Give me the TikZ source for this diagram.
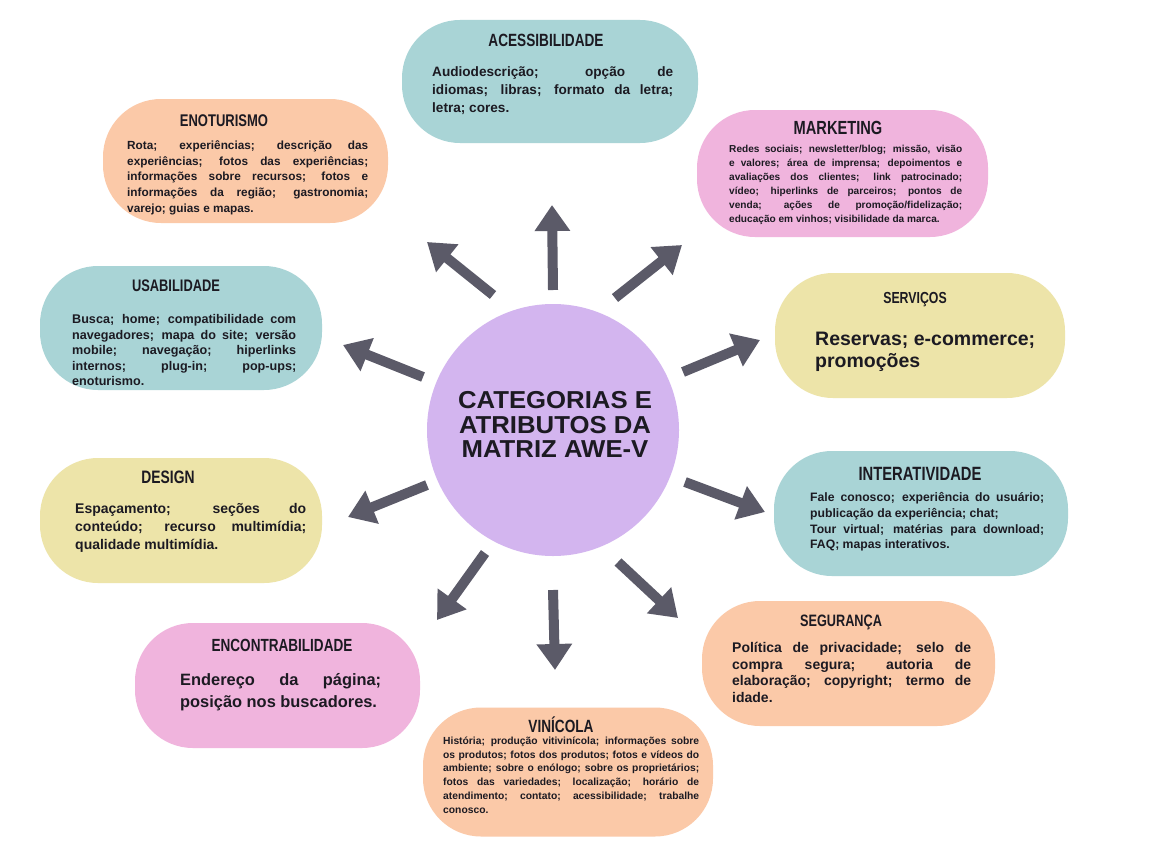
\documentclass[tikz,border=0pt]{standalone}
\usepackage{fontspec}
\setmainfont{Liberation Sans}
\newfontfamily\headfont[FakeStretch=0.77]{Liberation Sans}
\newfontfamily\hubfont[FakeStretch=1.05]{Liberation Sans}
\usetikzlibrary{arrows.meta}
\definecolor{tealbox}{HTML}{A9D4D6}
\definecolor{peachbox}{HTML}{FBC9A8}
\definecolor{pinkbox}{HTML}{F0B4DD}
\definecolor{yellowbox}{HTML}{EDE4A9}
\definecolor{hubfill}{HTML}{D3B5EF}
\definecolor{arrowgray}{HTML}{5B5A68}
\definecolor{inkdark}{HTML}{1C1A22}
\tolerance=10000 \hbadness=10000 \hyphenpenalty=10000 \exhyphenpenalty=10000 \parindent=0pt

\begin{document}
\begin{tikzpicture}[x=1pt, y=-1pt,
	pill/.style={ rectangle, rounded corners=58pt, inner sep=0pt },
	pillt/.style={ pill, fill=tealbox },
	pillo/.style={ pill, fill=peachbox },
	pillk/.style={ pill, fill=pinkbox },
	pilly/.style={ pill, fill=yellowbox },
	head/.style={ anchor=base, inner sep=0pt, text=inkdark, font=\headfont\bfseries\fontsize{#1}{#1}\selectfont },
	body/.style 2 args={ anchor=north west, inner sep=0pt, align=justify, text=inkdark, font=\bfseries\fontsize{#1}{#2}\selectfont },
	spoke/.style={ arrowgray, line width=10pt, -{Triangle[width=34pt,length=26pt]} }
]
\fill[white] (0,0) rectangle (1156,843);
\useasboundingbox (0,0) rectangle (1156,843);

\node at (553,430) (hub) [circle, fill=hubfill, inner sep=0pt, minimum size=252pt] {};
\node at (555,424.5) (hubtxt) [align=center, inner sep=0pt, text=inkdark, font=\hubfont\bfseries\fontsize{24.5}{24.5}\selectfont] {CATEGORIAS E\\ATRIBUTOS DA\\MATRIZ AWE-V};

\node at (550,81.5) (acess) [pillt, minimum width=296pt, minimum height=123pt] {};
\node at (546,46.3) (acesshead) [head=17.7] {ACESSIBILIDADE};
\node at (432,66) (acesstxt) [body={13.6}{18.3}, text width=241pt] {Audiodescrição; opção de\linebreak idiomas; libras; formato da letra;\linebreak letra; cores.};

\node at (245.5,161) (enot) [pillo, minimum width=285pt, minimum height=124pt] {};
\node at (224,126) (enothead) [head=16.9] {ENOTURISMO};
\node at (127,140.6) (enottxt) [body={11.8}{15.6}, text width=241pt] {Rota; experiências; descrição das\linebreak experiências; fotos das experiências;\linebreak informações sobre recursos; fotos e\linebreak informações da região; gastronomia;\linebreak varejo; guias e mapas.};

\node at (842.5,173.5) (mkt) [pillk, minimum width=291pt, minimum height=127pt] {};
\node at (838,134.8) (mkthead) [head=19] {MARKETING};
\node at (729,145.3) (mkttxt) [body={10.1}{13.9}, text width=233pt] {Redes sociais; newsletter/blog; missão, visão\linebreak e valores; área de imprensa; depoimentos e\linebreak avaliações dos clientes; link patrocinado;\linebreak vídeo; hiperlinks de parceiros; pontos de\linebreak venda; ações de promoção/fidelização;\linebreak educação em vinhos; visibilidade da marca.};

\node at (181,328) (usab) [pillt, minimum width=282pt, minimum height=124pt] {};
\node at (176,291) (usabhead) [head=16.7] {USABILIDADE};
\node at (72,314.3) (usabtxt) [body={12.6}{15.5}, text width=224pt] {Busca; home; compatibilidade com\linebreak navegadores; mapa do site; versão\linebreak mobile; navegação; hiperlinks\linebreak internos; plug-in; pop-ups;\linebreak enoturismo.};

\node at (920,335.5) (serv) [pilly, minimum width=290pt, minimum height=125pt] {};
\node at (915,303) (servhead) [head=16] {SERVIÇOS};
\node at (815,331.5) (servtxt) [body={19.5}{22.5}, text width=224pt] {Reservas; e-commerce;\\ promoções};

\node at (181,520.5) (design) [pilly, minimum width=282pt, minimum height=125pt] {};
\node at (168,483.4) (designhead) [head=18] {DESIGN};
\node at (75,502.8) (designtxt) [body={14}{18}, text width=231pt] {Espaçamento; seções do\linebreak conteúdo; recurso multimídia;\linebreak qualidade multimídia.};

\node at (921,513.5) (inter) [pillt, minimum width=294pt, minimum height=125pt] {};
\node at (920,480.7) (interhead) [head=19.2] {INTERATIVIDADE};
\node at (810,492.5) (intertxt) [body={12.2}{15.6}, text width=234pt] {Fale conosco; experiência do usuário;\linebreak publicação da experiência; chat;\\ Tour virtual; matérias para download;\linebreak FAQ; mapas interativos.};

\node at (277.5,685.5) (encon) [pillk, minimum width=285pt, minimum height=125pt] {};
\node at (282,651.3) (enconhead) [head=17.6] {ENCONTRABILIDADE};
\node at (180,672.9) (encontxt) [body={16.4}{22.5}, text width=201pt] {Endereço da página;\linebreak posição nos buscadores.};

\node at (848.5,663.5) (segur) [pillo, minimum width=293pt, minimum height=125pt] {};
\node at (841,626.9) (segurhead) [head=16.5] {SEGURANÇA};
\node at (732,641.8) (segurtxt) [body={14}{16.8}, text width=239pt] {Política de privacidade; selo de\linebreak compra segura; autoria de\linebreak elaboração; copyright; termo de\linebreak idade.};

\node at (568,772) (vin) [pillo, minimum width=290pt, minimum height=129pt] {};
\node at (561,732.5) (vinhead) [head=17.7] {VINÍCOLA};
\node at (443,736.8) (vintxt) [body={10.3}{13.7}, text width=256pt] {História; produção vitivinícola; informações sobre\linebreak os produtos; fotos dos produtos; fotos e vídeos do\linebreak ambiente; sobre o enólogo; sobre os proprietários;\linebreak fotos das variedades; localização; horário de\linebreak atendimento; contato; acessibilidade; trabalhe\linebreak conosco.};

\coordinate (n0) at (553,290);   \coordinate (n1) at (552,205);
\coordinate (nw0) at (493,295);  \coordinate (nw1) at (427,242);
\coordinate (ne0) at (615,298);  \coordinate (ne1) at (682,245);
\coordinate (w0) at (423,377);   \coordinate (w1) at (343,345);
\coordinate (e0) at (683,372);   \coordinate (e1) at (760,340);
\coordinate (ws0) at (427,485);  \coordinate (ws1) at (348,517);
\coordinate (es0) at (685,482);  \coordinate (es1) at (765,512);
\coordinate (sw0) at (485,553);  \coordinate (sw1) at (437,620);
\coordinate (s0) at (553,590);   \coordinate (s1) at (555,670);
\coordinate (se0) at (618,562);  \coordinate (se1) at (678,618);
\foreach \a in {n,nw,ne,w,e,ws,es,sw,s,se}
	\draw [spoke] (\a0) -- (\a1);

\end{tikzpicture}
\end{document}
